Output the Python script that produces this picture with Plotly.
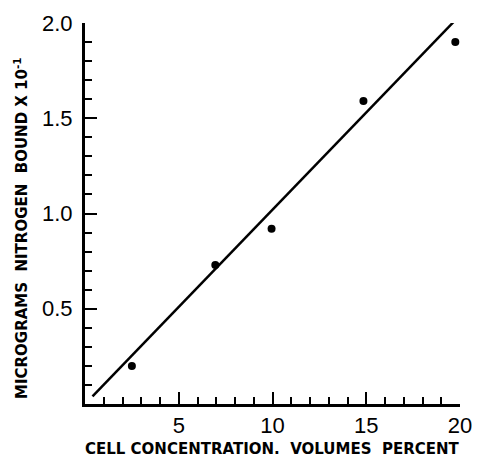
import plotly.graph_objects as go

# Data points
cell_conc = [2.5, 6.95, 9.95, 14.85, 19.75]
nitrogen_bound = [0.20, 0.73, 0.92, 1.59, 1.90]

# Fitted straight line endpoints
fit_x = [0.4, 19.7]
fit_y = [0.04, 2.01]

x_tickvals = [5, 10, 15, 20]
x_ticktext = ["5", "10", "15", "20"]
y_tickvals = [0.5, 1.0, 1.5, 2.0]
y_ticktext = ["0.5", "1.0", "1.5", "2.0"]

x_title = "CELL CONCENTRATION.  VOLUMES  PERCENT"
y_title = "MICROGRAMS  NITROGEN  BOUND X 10<sup>-1</sup>"

fig = go.Figure()
fig.add_trace(go.Scatter(x=fit_x, y=fit_y, mode="lines",
                         line=dict(color="black", width=2.5), showlegend=False))
fig.add_trace(go.Scatter(x=cell_conc, y=nitrogen_bound, mode="markers",
                         marker=dict(color="black", size=8), showlegend=False))

tick_font = dict(family="Liberation Sans", size=22, color="black")
title_font = dict(family="DejaVu Sans", size=15, color="black", weight="bold")

# the page body adds an 8px offset, so the figure is sized 8px smaller
fig.update_layout(
    width=473, height=450,
    margin=dict(l=77, r=21, t=15, b=54),
    paper_bgcolor="white", plot_bgcolor="white",
    xaxis=dict(range=[0, 20], showgrid=False, zeroline=False, automargin=False,
               showline=True, linecolor="black", linewidth=3,
               ticks="inside", ticklen=12, tickwidth=2, tickcolor="black",
               tickvals=x_tickvals, ticktext=x_ticktext, tickfont=tick_font,
               minor=dict(dtick=1, tick0=0, ticks="inside", ticklen=7,
                          tickwidth=2, tickcolor="black", showgrid=False)),
    yaxis=dict(range=[0, 2.0], showgrid=False, zeroline=False, automargin=False,
               showline=True, linecolor="black", linewidth=3,
               ticks="inside", ticklen=12, tickwidth=2, tickcolor="black",
               tickvals=y_tickvals, ticktext=y_ticktext, tickfont=tick_font,
               ticklabelstandoff=5,
               minor=dict(dtick=0.1, tick0=0, ticks="inside", ticklen=7,
                          tickwidth=2, tickcolor="black", showgrid=False)),
    annotations=[
        dict(text=y_title, font=title_font, textangle=-90,
             xref="paper", yref="paper", x=0, y=0.462,
             xanchor="center", yanchor="middle", xshift=-64,
             showarrow=False),
        dict(text=x_title, font=title_font,
             xref="paper", yref="paper", x=0.499, y=0,
             xanchor="center", yanchor="middle", yshift=-45,
             showarrow=False),
    ],
)

fig.write_html("out.html")
